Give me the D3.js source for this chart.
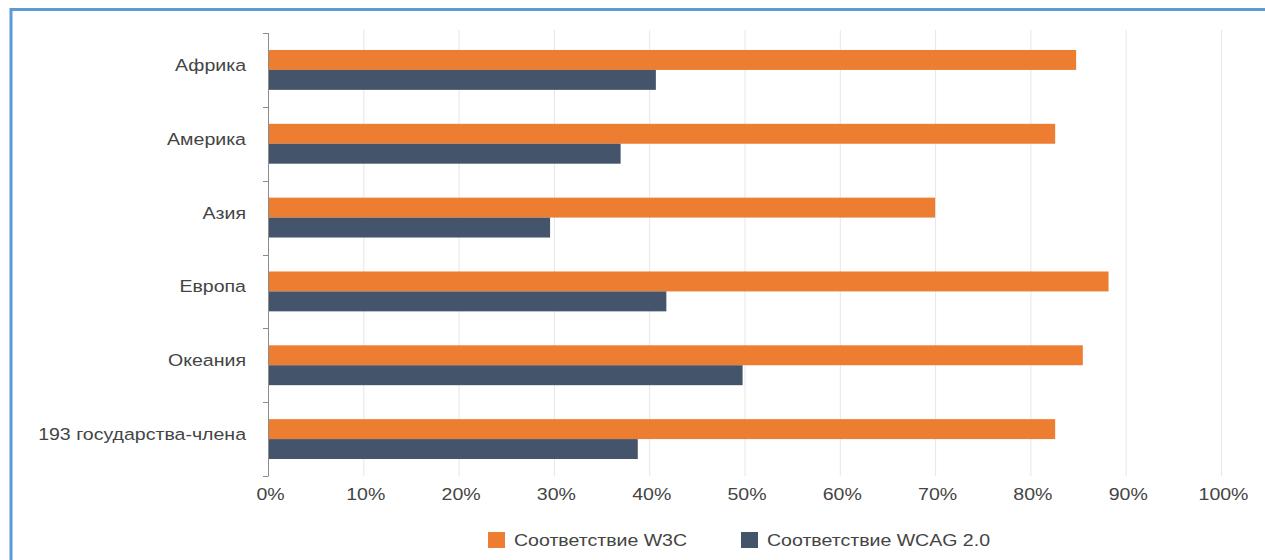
<!DOCTYPE html>
<html>
<head>
<meta charset="utf-8">
<script src="https://cdn.jsdelivr.net/npm/d3@7"></script>
<style>
html,body{margin:0;padding:0;background:#fff;}
svg{display:block;font-family:"Liberation Sans",Arial,sans-serif;}
</style>
</head>
<body>
<svg id="chart" width="1265" height="560"></svg>
<script>
const categories = ["Африка","Америка","Азия","Европа","Океания","193 государства-члена"];
const seriesNames = ["Соответствие W3C","Соответствие WCAG 2.0"];
const w3c = [84.8, 82.6, 70.0, 88.2, 85.5, 82.6];
const wcag = [40.7, 37.0, 29.6, 41.8, 49.8, 38.8];
const tickValues = [0,10,20,30,40,50,60,70,80,90,100];
const colors = ["#ed7d31","#44546a"];

const svg = d3.select("#chart");
const W = 1265, H = 560;
const SX = 1.15, FS = 17, TXT = "#444444";

// frame
svg.append("rect").attr("x",11).attr("y",9.5).attr("width",W+20).attr("height",H+20)
  .attr("fill","none").attr("stroke","#5b9bd5").attr("stroke-width",3);

const m = {left:268, right:1221, top:33, bottom:476};
const x = d3.scaleLinear().domain([0,100]).range([m.left, m.right]);
const y = d3.scaleBand().domain(categories).range([m.top, m.bottom]).paddingInner(0.46).paddingOuter(0.23);
const ySub = d3.scaleBand().domain(seriesNames).range([0, y.bandwidth()]);

// gridlines
svg.append("g").selectAll("line").data(tickValues.slice(1)).join("line")
  .attr("x1",d=>x(d)+0.5).attr("x2",d=>x(d)+0.5)
  .attr("y1",30).attr("y2",m.bottom)
  .attr("stroke","#e6e6e6").attr("stroke-width",1);

// bars
const data = categories.map((c,i)=>({c, vals:[w3c[i], wcag[i]]}));
const g = svg.append("g");
data.forEach(d=>{
  d.vals.forEach((v,j)=>{
    g.append("rect")
      .attr("x", x(0)+1)
      .attr("y", y(d.c)+ySub(seriesNames[j]))
      .attr("width", x(v)-x(0)-1)
      .attr("height", ySub.bandwidth())
      .attr("fill", colors[j]);
  });
});

// y axis line with band ticks
const yAxisG = svg.append("g");
yAxisG.append("line").attr("x1",m.left+0.5).attr("x2",m.left+0.5).attr("y1",m.top).attr("y2",m.bottom)
  .attr("stroke","#8c8c8c").attr("stroke-width",1);
const step = (m.bottom-m.top)/categories.length;
d3.range(categories.length+1).forEach(i=>{
  const yy = Math.round(m.top + i*step)+0.5;
  yAxisG.append("line").attr("x1",m.left-5).attr("x2",m.left+0.5).attr("y1",yy).attr("y2",yy)
    .attr("stroke","#8c8c8c").attr("stroke-width",1);
});

// category labels
svg.append("g").selectAll("g").data(categories).join("g")
  .attr("transform",d=>`translate(246,${y(d)+y.bandwidth()/2-5}) scale(${SX},1)`)
  .append("text").attr("dy","0.35em").attr("text-anchor","end")
  .attr("font-size",FS).attr("fill",TXT).text(d=>d);

// x axis labels via axis generator
const xAxis = d3.axisBottom(x).tickValues(tickValues).tickFormat(d=>d+"%").tickSize(0).tickPadding(0);
const xg = svg.append("g").attr("transform",`translate(0,${m.bottom})`).call(xAxis);
xg.select(".domain").remove();
xg.selectAll(".tick text").attr("font-size",FS).attr("fill",TXT)
  .attr("font-family","'Liberation Sans',Arial,sans-serif")
  .attr("y",0).attr("dy","0.35em")
  .attr("transform",`translate(2,18) scale(${SX},1)`);

// legend
const legend = svg.append("g");
const legX = [488, 741];
seriesNames.forEach((s,i)=>{
  legend.append("rect").attr("x",legX[i]).attr("y",532).attr("width",17).attr("height",16).attr("fill",colors[i]);
  legend.append("g").attr("transform",`translate(${legX[i]+26},540) scale(${SX},1)`)
    .append("text").attr("dy","0.35em")
    .attr("font-size",FS).attr("fill",TXT).text(s);
});
</script>
</body>
</html>
